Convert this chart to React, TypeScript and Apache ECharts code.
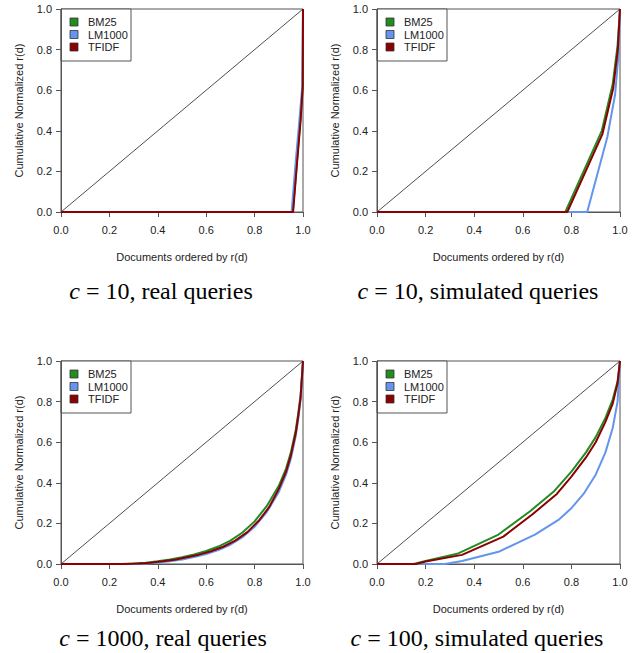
import React, { useEffect, useRef } from "react";
import * as echarts from "echarts";

// ---------- data ----------
const SERIES_NAMES = ["BM25", "LM1000", "TFIDF"];
const SERIES_COLORS = ["#228B22", "#6495ED", "#8B0000"];
const DIAGONAL = [[0, 0], [1, 1]];

// c = 10, real queries
const bm25_real10 = [[0, 0], [0.958, 0], [0.975, 0.25], [0.989, 0.45], [0.999, 0.62], [1, 1]];
const lm_real10 = [[0, 0], [0.953, 0], [0.97, 0.25], [0.985, 0.45], [0.997, 0.62], [1, 1]];
const tfidf_real10 = [[0, 0], [0.959, 0], [0.976, 0.25], [0.99, 0.45], [0.999, 0.62], [1, 1]];

// c = 10, simulated queries
const bm25_sim10 = [[0, 0], [0.775, 0], [0.925, 0.4], [0.97, 0.63], [0.99, 0.82], [1, 1]];
const lm_sim10 = [[0, 0], [0.865, 0], [0.948, 0.37], [0.98, 0.58], [0.994, 0.78], [1, 1]];
const tfidf_sim10 = [[0, 0], [0.783, 0], [0.928, 0.385], [0.972, 0.61], [0.991, 0.8], [1, 1]];

// c = 1000, real queries
const bm25_real1000 = [[0, 0], [0.25, 0], [0.3, 0.002], [0.35, 0.006], [0.4, 0.013], [0.45, 0.022], [0.5, 0.033], [0.55, 0.047], [0.6, 0.064], [0.65, 0.086], [0.7, 0.115], [0.75, 0.155], [0.8, 0.21], [0.85, 0.285], [0.9, 0.385], [0.93, 0.47], [0.95, 0.55], [0.97, 0.66], [0.98, 0.74], [0.99, 0.83], [1, 1]];
const lm_real1000 = [[0, 0], [0.3, 0], [0.35, 0.002], [0.4, 0.006], [0.45, 0.013], [0.5, 0.022], [0.55, 0.034], [0.6, 0.049], [0.65, 0.069], [0.7, 0.095], [0.75, 0.132], [0.8, 0.183], [0.85, 0.255], [0.9, 0.355], [0.93, 0.44], [0.95, 0.52], [0.97, 0.63], [0.98, 0.71], [0.99, 0.81], [1, 1]];
const tfidf_real1000 = [[0, 0], [0.27, 0], [0.32, 0.002], [0.37, 0.006], [0.42, 0.013], [0.47, 0.021], [0.52, 0.033], [0.57, 0.046], [0.62, 0.063], [0.67, 0.085], [0.72, 0.115], [0.77, 0.157], [0.82, 0.217], [0.86, 0.28], [0.9, 0.37], [0.93, 0.455], [0.95, 0.535], [0.97, 0.645], [0.98, 0.725], [0.99, 0.82], [1, 1]];

// c = 100, simulated queries
const bm25_sim100 = [[0, 0], [0.15, 0], [0.2, 0.015], [0.33, 0.05], [0.5, 0.145], [0.63, 0.26], [0.73, 0.36], [0.8, 0.455], [0.86, 0.55], [0.9, 0.625], [0.94, 0.72], [0.97, 0.81], [0.99, 0.9], [1, 1]];
const lm_sim100 = [[0, 0], [0.28, 0], [0.35, 0.015], [0.5, 0.06], [0.65, 0.145], [0.75, 0.22], [0.8, 0.275], [0.85, 0.345], [0.9, 0.44], [0.94, 0.55], [0.97, 0.67], [0.99, 0.8], [1, 1]];
const tfidf_sim100 = [[0, 0], [0.16, 0], [0.2, 0.012], [0.35, 0.045], [0.52, 0.135], [0.64, 0.245], [0.74, 0.345], [0.8, 0.43], [0.86, 0.525], [0.9, 0.6], [0.94, 0.7], [0.97, 0.79], [0.99, 0.89], [1, 1]];

const PANEL_DATA = [
  [bm25_real10, lm_real10, tfidf_real10],
  [bm25_sim10, lm_sim10, tfidf_sim10],
  [bm25_real1000, lm_real1000, tfidf_real1000],
  [bm25_sim100, lm_sim100, tfidf_sim100],
];
const CAPTION_C = ["10", "10", "1000", "100"];
const CAPTION_KIND = ["real queries", "simulated queries", "real queries", "simulated queries"];

const X_NAME = "Documents ordered by r(d)";
const Y_NAME = "Cumulative Normalized r(d)";

// ---------- layout ----------
const PANELS = [
  { left: 61, top: 9, width: 242, height: 203, capX: 161, capY: 291 },
  { left: 377, top: 9, width: 243, height: 203, capX: 478, capY: 291 },
  { left: 61, top: 361, width: 242, height: 203, capX: 163, capY: 638 },
  { left: 377, top: 361, width: 243, height: 203, capX: 477, capY: 638 },
];

const SANS = "'Liberation Sans', Arial, sans-serif";
const SERIF = "'Liberation Serif', 'DejaVu Serif', serif";
const AXIS_COLOR = "#555";
const TEXT_COLOR = "#222";
const CAPTION_SIZE = 24;

export default function App() {
  const ref = useRef<HTMLDivElement>(null);

  useEffect(() => {
    if (!ref.current) return;
    const chart = echarts.init(ref.current, undefined, { renderer: "svg" });

    const grids: any[] = [];
    const xAxes: any[] = [];
    const yAxes: any[] = [];
    const series: any[] = [];
    const graphics: any[] = [];

    PANELS.forEach((p, i) => {
      grids.push({
        left: p.left,
        top: p.top,
        width: p.width,
        height: p.height,
        show: true,
        borderColor: AXIS_COLOR,
        borderWidth: 1,
        backgroundColor: "transparent",
      });
      const axisCommon = {
        type: "value",
        min: 0,
        max: 1,
        interval: 0.2,
        gridIndex: i,
        splitLine: { show: false },
        axisLine: { show: true, lineStyle: { color: AXIS_COLOR, width: 1 } },
        axisTick: { show: true, inside: false, length: 5, lineStyle: { color: AXIS_COLOR } },
        axisLabel: {
          formatter: (v: number) => v.toFixed(1),
          color: TEXT_COLOR,
          fontFamily: SANS,
          fontSize: 11,
          showMinLabel: true,
          showMaxLabel: true,
        },
        nameLocation: "middle",
        nameTextStyle: { color: TEXT_COLOR, fontFamily: SANS, fontSize: 11 },
      };
      xAxes.push({
        ...axisCommon,
        axisLabel: { ...axisCommon.axisLabel, margin: 12 },
        name: X_NAME,
        nameGap: 39,
      });
      yAxes.push({
        ...axisCommon,
        axisLabel: { ...axisCommon.axisLabel, margin: 9 },
        name: Y_NAME,
        nameGap: 37,
      });

      series.push({
        type: "line",
        xAxisIndex: i,
        yAxisIndex: i,
        data: DIAGONAL,
        showSymbol: false,
        lineStyle: { color: "#000", width: 0.7 },
        silent: true,
        z: 1,
      });
      PANEL_DATA[i].forEach((d, k) => {
        series.push({
          type: "line",
          name: SERIES_NAMES[k],
          xAxisIndex: i,
          yAxisIndex: i,
          data: d,
          showSymbol: false,
          clip: false,
          lineStyle: { color: SERIES_COLORS[k], width: 2 },
          z: 2 + k,
        });
      });

      // legend box
      const lx = p.left;
      const ly = p.top;
      const children: any[] = [
        {
          type: "rect",
          shape: { x: lx, y: ly, width: 70, height: 52 },
          style: { fill: "#fff", stroke: AXIS_COLOR, lineWidth: 1 },
        },
      ];
      SERIES_NAMES.forEach((nm, k) => {
        const cy = ly + 13 + k * 12.5;
        children.push({
          type: "rect",
          shape: { x: lx + 9, y: cy - 4, width: 8, height: 8 },
          style: { fill: SERIES_COLORS[k], stroke: "#333", lineWidth: 0.8 },
        });
        children.push({
          type: "text",
          x: lx + 27,
          y: cy,
          style: {
            text: nm,
            fill: TEXT_COLOR,
            font: `11px ${SANS}`,
            verticalAlign: "middle",
            align: "left",
          },
        });
      });
      graphics.push({ type: "group", children });

      // caption
      graphics.push({
        type: "text",
        x: p.capX,
        y: p.capY,
        style: {
          text: `{i|c} = ${CAPTION_C[i]}, ${CAPTION_KIND[i]}`,
          fill: "#000",
          font: `${CAPTION_SIZE}px ${SERIF}`,
          align: "center",
          verticalAlign: "middle",
          rich: {
            i: { fontStyle: "italic", fontFamily: SERIF, fontSize: CAPTION_SIZE, fill: "#000" },
          },
        },
      });
    });

    chart.setOption({
      animation: false,
      backgroundColor: "#fff",
      grid: grids,
      xAxis: xAxes,
      yAxis: yAxes,
      series,
      graphic: graphics,
    });

    return () => chart.dispose();
  }, []);

  return (
    <div
      ref={ref}
      style={{ position: "fixed", left: 0, top: 0, width: 641, height: 653 }}
    />
  );
}
